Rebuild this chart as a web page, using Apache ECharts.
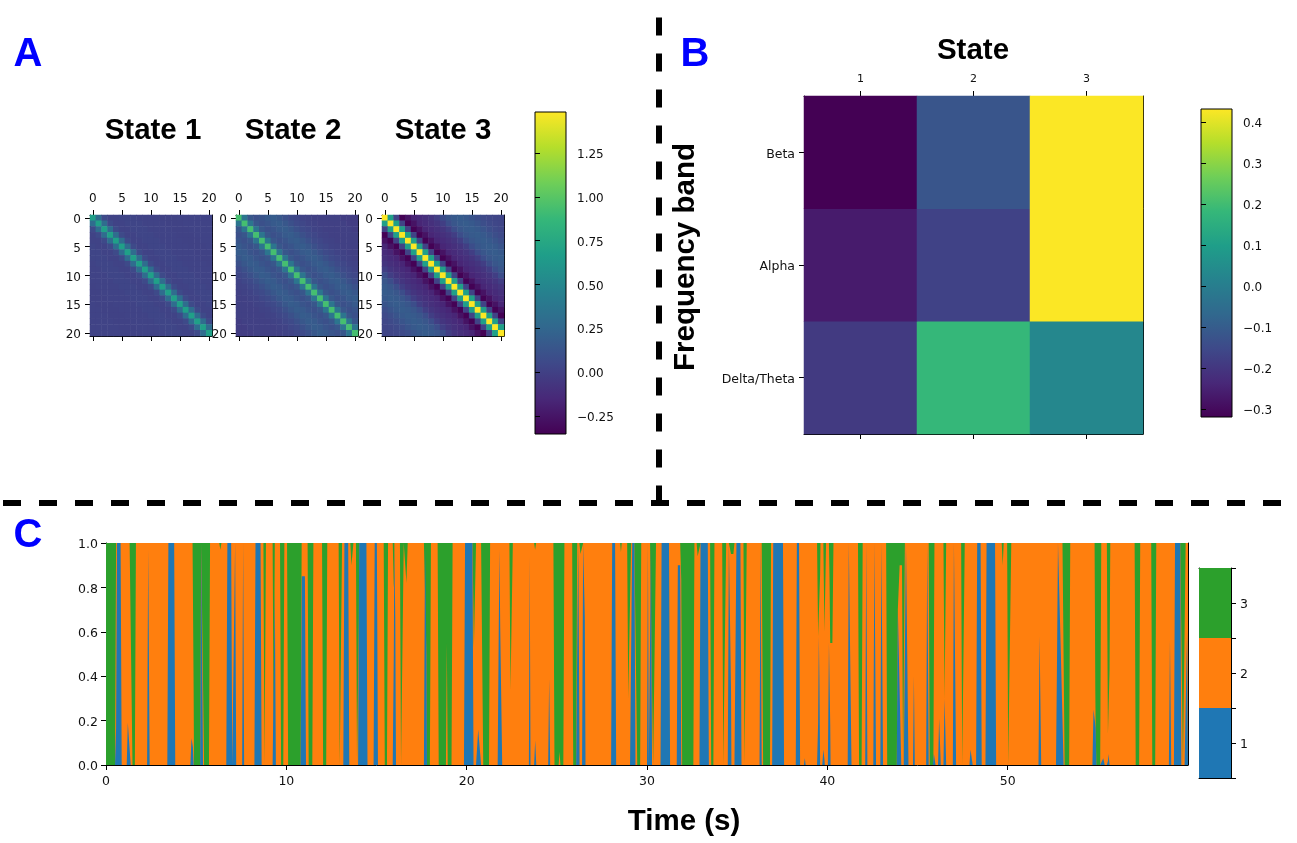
<!DOCTYPE html>
<html><head><meta charset="utf-8">
<style>html,body{margin:0;padding:0;background:#fff}#c{width:1297px;height:843px}</style>
<script src="https://cdn.jsdelivr.net/npm/echarts@6/dist/echarts.min.js"></script>
</head><body><div id="c"></div>
<script>
// ---- Panel A: value by distance from the diagonal (lag 0..20)
const state1Lags = [0.68,0.30,0.06,0.02,0.02,0.03,0.03,0.03,0.02,0.02,0.02,0.02,0.01,0.01,0.01,0.02,0.02,0.02,0.02,0.02,0.02];
const state2Lags = [0.93,0.36,0.15,0.10,0.13,0.17,0.18,0.15,0.10,0.06,0.04,0.02,0.01,0.00,0.00,0.00,0.00,0.00,-0.02,-0.02,-0.02];
const state3Lags = [1.48,0.68,0.02,-0.35,-0.26,-0.16,-0.13,-0.10,-0.07,-0.01,0.08,0.14,0.17,0.18,0.16,0.13,0.09,0.06,0.04,0.03,0.03];
const stateTicks = Array.from({length:21},(_,i)=>String(i));
// ---- Panel B
const bandStates = ['1','2','3'];
const bandNames = ['Delta/Theta','Alpha','Beta'];
const bandBeta = [-0.32,-0.12,0.43];
const bandAlpha = [-0.265,-0.17,0.43];
const bandDelta = [-0.19,0.18,0.03];
// ---- Panel C: episodes, [start s, end s, peak height]
const blueBands = [[0.55,0.87,1],[1.15,1.37,0.19],[2.28,2.42,0.97],[3.40,3.84,1],[4.68,4.86,0.12],[5.22,5.38,1],[6.67,7.0,1],[7.1,7.22,1],[7.55,7.66,1],[8.23,8.63,1],[9.3,9.42,0.78],
[10.8,11.09,0.85],[13.16,13.49,1],[13.98,14.5,1],[14.84,15.08,1],[15.93,16.08,1],[17.63,17.8,1],[19.85,20.38,1],[20.58,20.8,0.16],[21.72,21.97,0.62],[21.78,21.86,0.97],[23.45,23.54,0.94],[23.74,23.86,0.11],[24.52,24.63,0.39],
[26.13,26.26,1],[26.4,26.59,1],[28.01,28.29,1],[29.12,29.36,1],[30.0,30.1,1],[30.17,30.28,1],[30.75,31.28,1],[31.65,31.9,0.9],[32.91,33.43,1],[34.48,34.68,1],[34.9,35.24,1],[36.24,36.36,1],[36.94,37.6,1],[38.25,38.49,1],[38.7,38.8,0.03],[39.47,39.6,0.58],[39.72,39.86,0.07],
[40.03,40.18,0.55],[41.13,41.34,1],[42.1,42.22,1],[42.55,42.7,1],[42.94,43.09,1],[43.85,44.1,0.7],[44.3,44.5,1],[44.75,44.85,0.4],[45.48,45.62,1],[45.85,46.0,0.05],[46.14,46.29,0.21],[46.44,46.59,0.3],[46.96,47.14,1],[47.88,48.06,0.07],[48.25,48.56,1],[48.77,49.36,1],
[51.71,51.86,0.58],[52.68,53.1,0.5],[52.73,52.95,1],[54.7,54.92,0.25],[55.24,55.38,0.03],[55.54,55.65,0.05],[58.94,59.07,0.56],[59.22,59.63,1],[59.9,60,0.6]];
const greenBands = [[0,0.56,1],[1.41,1.66,1],[4.82,5.28,1],[5.38,5.77,1],[6.28,6.4,0.03],[8.73,8.87,1],[9.24,9.36,0.9],[9.65,9.89,1],
[10.04,10.85,1],[11.18,11.5,1],[11.98,12.27,1],[12.9,13.09,1],[13.55,13.72,0.1],[13.86,14.08,1],[15.4,15.64,1],[15.9,16.04,0.2],[16.3,16.51,1],[16.6,16.73,0.18],[17.71,18.02,1],[18.39,19.22,1],
[20.34,20.52,0.47],[20.86,21.3,1],[22.37,22.56,0.66],[23.74,23.85,0.03],[24.81,25.42,1],[25.85,26.13,1],[26.25,26.55,0.05],[28.51,28.6,0.04],[28.9,29.12,0.7],[29.4,29.68,1],
[30.28,30.5,1],[31.89,32.63,1],[32.75,33.1,0.06],[33.5,33.74,1],[34.17,34.39,1],[34.6,34.85,0.05],[35.35,35.53,1],[36.38,36.88,1],[39.43,39.62,0.42],[39.78,39.93,0.4],
[40.1,40.34,0.45],[41.7,41.96,1],[43.26,44.3,1],[45.62,45.94,1],[46.44,46.59,0.7],[47.42,47.62,1],[49.67,49.78,0.1],
[49.97,50.2,1],[53.1,53.47,1],[54.82,55.19,1],[55.5,55.69,0.86],[57.04,57.35,1],[57.96,58.24,1],[59.66,59.87,1]];
const orangeWedges = [[18.85,18.95,0.55],[25.1,25.2,0.06],[43.95,44.2,0.9]];
const stateColors = ['#1f77b4','#ff7f0e','#2ca02c'];
const stateLabels = ['1','2','3'];
const timeTicks = [0,10,20,30,40,50];
const cbarATicks = [-0.25,0,0.25,0.5,0.75,1,1.25];
const cbarBTicks = [-0.3,-0.2,-0.1,0,0.1,0.2,0.3,0.4];

const viridis = ['#440154','#482878','#3e4989','#31688e','#26828e','#1f9e89','#35b779','#6ece58','#b5de2b','#fde725'];
const vStops = viridis.map((c,i)=>({offset:i/(viridis.length-1),color:c}));
const FONT = 'DejaVu Sans', BOLD = 'Liberation Sans';

function matrixFromLags(l){const o=[];for(let r=0;r<21;r++)for(let c=0;c<21;c++)o.push([c,r,l[Math.abs(r-c)]]);return o;}
const bandMatrix=[];[bandDelta,bandAlpha,bandBeta].forEach((row,r)=>row.forEach((v,c)=>bandMatrix.push([c,r,v])));

// table for the stackplot: share of each state at every episode vertex
const RAMP=0.06;
function verts(list){const o=[];list.forEach(b=>{const r=Math.min(RAMP,(b[1]-b[0])/2);o.push(b[0],b[0]+r,b[1]-r,b[1]);});return o;}
function shape(list,t){let m=0;list.forEach(b=>{if(t<b[0]||t>b[1])return;const r=Math.min(RAMP,(b[1]-b[0])/2);
  let v=b[2];if(b[0]>0&&t<b[0]+r)v=b[2]*(t-b[0])/r;else if(b[1]<60&&t>b[1]-r)v=b[2]*(b[1]-t)/r;if(v>m)m=v;});return m;}
const timeBase=[...new Set([0,60].concat(verts(blueBands),verts(greenBands),verts(orangeWedges)).map(t=>+t.toFixed(3)))].sort((a,b)=>a-b);
const p1=[],p2=[],p3=[];
timeBase.forEach(t=>{const a=shape(blueBands,t);let g=shape(greenBands,t);g=Math.min(g,1-shape(orangeWedges,t),1-a);
  p1.push(a);p2.push(1-a-g);p3.push(g);});

const grids=[],xAxes=[],yAxes=[],series=[];
const tickStyle={show:true,length:5,lineStyle:{color:'#000',width:1}};
const lineStyle={show:true,onZero:false,lineStyle:{color:'#000',width:1}};
const lab=(s,m)=>({show:true,color:'#111',fontFamily:FONT,fontSize:s,margin:m});
// y labels: nudged down a little so that they sit level with their ticks
const labY=(s,m,fmt)=>Object.assign(lab(s,m),{formatter:v=>`{s|${fmt?fmt(v):v}}`,
  rich:{s:{color:'#111',fontFamily:FONT,fontSize:s,padding:[4,0,0,0]}}});
const minus=s=>s.replace('-','\u2212');

function imagePanel(box,xCats,yCats,opt){
  const g=grids.length;grids.push(box);
  const xi=xAxes.length,yi=yAxes.length;
  const xa={type:'category',data:xCats,gridIndex:g,axisLine:lineStyle,splitLine:{show:false},
    axisTick:Object.assign({},tickStyle,{alignWithLabel:true,interval:opt.every-1})};
  xAxes.push(Object.assign({},xa,{position:'top',axisLabel:Object.assign(lab(opt.xFont,opt.xMargin),{interval:opt.every-1})}));
  xAxes.push(Object.assign({},xa,{position:'bottom',axisLabel:{show:false}}));
  const ya={type:'category',data:yCats,gridIndex:g,inverse:opt.inv,axisLine:lineStyle,splitLine:{show:false}};
  yAxes.push(Object.assign({},ya,{position:'left',axisTick:Object.assign({},tickStyle,{alignWithLabel:true,interval:opt.every-1}),
    axisLabel:Object.assign(labY(opt.yFont,opt.yMargin),{interval:opt.every-1})}));
  yAxes.push(Object.assign({},ya,{position:'right',axisTick:{show:false},axisLabel:{show:false}}));
  return {xAxisIndex:xi,yAxisIndex:yi};
}
function colorBar(box,min,max,ticks,font,fmt){
  const g=grids.length;
  grids.push(Object.assign({show:true,borderColor:'#000',borderWidth:1,
    backgroundColor:{type:'linear',x:0,y:1,x2:0,y2:0,colorStops:vStops}},box));
  xAxes.push({type:'value',gridIndex:g,min:0,max:1,show:false});
  yAxes.push({type:'value',gridIndex:g,position:'right',min,max,splitLine:{show:false},
    axisLine:{show:false},axisTick:Object.assign({},tickStyle,{customValues:ticks}),
    axisLabel:Object.assign(labY(font,11,fmt),{customValues:ticks})});
}

const aOpt={every:5,xFont:12,yFont:12,xMargin:10,yMargin:9,inv:true};
const A1=imagePanel({left:90,top:215,width:122,height:121},stateTicks,stateTicks,aOpt);
const A2=imagePanel({left:236,top:215,width:122,height:121},stateTicks,stateTicks,aOpt);
const A3=imagePanel({left:382,top:215,width:122,height:121},stateTicks,stateTicks,aOpt);
[[A1,state1Lags],[A2,state2Lags],[A3,state3Lags]].forEach(([ax,l])=>series.push(Object.assign({type:'heatmap',data:matrixFromLags(l),silent:true,progressive:0},ax)));
colorBar({left:535,top:112,width:31,height:322},-0.353,1.484,cbarATicks,12,v=>minus(v.toFixed(2)));

const B=imagePanel({left:804,top:96,width:339,height:338},bandStates,bandNames,{every:1,xFont:11,yFont:12.5,xMargin:11,yMargin:9,inv:false});
series.push(Object.assign({type:'heatmap',data:bandMatrix,silent:true},B));
colorBar({left:1201,top:109,width:31,height:308},-0.32,0.432,cbarBTicks,12,v=>minus(v.toFixed(1)));

// Panel C: three layered areas whose tops are the cumulative shares
const gC=grids.length;grids.push({left:106,top:543,width:1082,height:222});
const xC=xAxes.length,yC=yAxes.length;
xAxes.push({type:'value',gridIndex:gC,position:'bottom',min:0,max:60,splitLine:{show:false},axisLine:lineStyle,
  axisTick:Object.assign({},tickStyle,{customValues:timeTicks}),axisLabel:Object.assign(lab(12.5,10),{customValues:timeTicks})});
xAxes.push({type:'value',gridIndex:gC,position:'top',min:0,max:60,splitLine:{show:false},axisLine:lineStyle,axisTick:{show:false},axisLabel:{show:false}});
yAxes.push({type:'value',gridIndex:gC,position:'left',min:0,max:1,interval:0.2,splitLine:{show:false},axisLine:lineStyle,
  axisTick:tickStyle,axisLabel:labY(12.5,8,v=>v.toFixed(1))});
yAxes.push({type:'value',gridIndex:gC,position:'right',min:0,max:1,splitLine:{show:false},axisLine:lineStyle,axisTick:{show:false},axisLabel:{show:false}});
const layers=[
  {c:2,d:timeBase.map((t,i)=>[t,p1[i]+p2[i]+p3[i]])},
  {c:1,d:timeBase.map((t,i)=>[t,p1[i]+p2[i]])},
  {c:0,d:timeBase.map((t,i)=>[t,p1[i]])}];
layers.forEach((l,i)=>series.push({type:'line',xAxisIndex:xC,yAxisIndex:yC,data:l.d,showSymbol:false,symbol:'none',
  animation:false,silent:true,lineStyle:{width:0},areaStyle:{color:stateColors[l.c],opacity:1,origin:'start'},itemStyle:{color:stateColors[l.c]},z:1+i}));

// Discrete state colour bar
const gD=grids.length;grids.push({left:1199,top:568,width:32,height:210});
const xD=xAxes.length,yD=yAxes.length;
const frameX={type:'category',gridIndex:gD,data:['s'],axisLine:lineStyle,axisTick:{show:false},axisLabel:{show:false},splitLine:{show:false}};
xAxes.push(Object.assign({},frameX,{position:'bottom'}),Object.assign({},frameX,{position:'top'}));
const dTicks=[0.5,1,1.5,2,2.5,3,3.5];
yAxes.push({type:'value',gridIndex:gD,position:'right',min:0.5,max:3.5,splitLine:{show:false},axisLine:lineStyle,
  axisTick:Object.assign({},tickStyle,{customValues:dTicks}),
  axisLabel:Object.assign(labY(12.5,9,v=>stateLabels[v-1]),{customValues:[1,2,3]})});
yAxes.push({type:'value',gridIndex:gD,position:'left',min:0.5,max:3.5,splitLine:{show:false},axisLine:lineStyle,axisTick:{show:false},axisLabel:{show:false}});
[1.5,1,1].forEach((v,i)=>series.push({type:'bar',xAxisIndex:xD,yAxisIndex:yD,stack:'cb',data:[v],barWidth:'100%',silent:true,itemStyle:{color:stateColors[i]}}));

const bold=(x,y,text,size,fill,rot)=>({type:'text',x,y,rotation:rot||0,silent:true,style:{text,font:`bold ${size}px "${BOLD}"`,fill,textAlign:'center',textVerticalAlign:'middle'}});
const dash=(x1,y1,x2,y2)=>({type:'line',silent:true,shape:{x1,y1,x2,y2},style:{stroke:'#000',lineWidth:6,lineDash:[18,18]}});

const chart=echarts.init(document.getElementById('c'),null,{renderer:'canvas',width:1297,height:843});
chart.setOption({
  animation:false,backgroundColor:'#fff',
  grid:grids,xAxis:xAxes,yAxis:yAxes,series,
  visualMap:[
    {type:'continuous',show:false,seriesIndex:[0,1,2],min:-0.353,max:1.484,inRange:{color:viridis}},
    {type:'continuous',show:false,seriesIndex:[3],min:-0.32,max:0.432,inRange:{color:viridis}}],
  graphic:{elements:[
    dash(659,17.5,659,503),dash(3,503,1285,503),
    bold(28,55,'A',40,'#0000ff'),bold(695,55,'B',40,'#0000ff'),bold(28,536,'C',40,'#0000ff'),
    bold(153,131,'State 1',29.5,'#000'),bold(293,131,'State 2',29.5,'#000'),bold(443,131,'State 3',29.5,'#000'),
    bold(973,51,'State',29.5,'#000'),bold(686,257,'Frequency band',29.5,'#000',Math.PI/2),bold(684,822,'Time (s)',29.5,'#000')
  ]}
});
</script></body></html>
